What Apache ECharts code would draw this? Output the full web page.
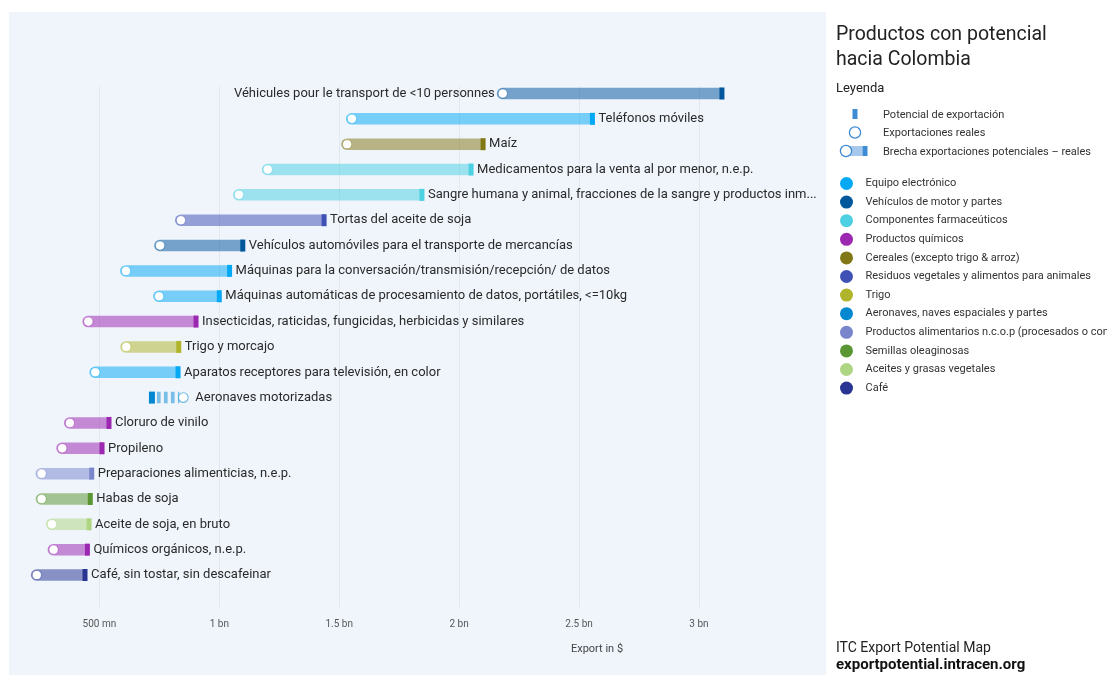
<!DOCTYPE html>
<html>
<head>
<meta charset="utf-8">
<script src="https://cdn.jsdelivr.net/npm/echarts@6/dist/echarts.min.js"></script>
<style>
html,body{margin:0;padding:0;background:#fff;}
#bg{position:absolute;left:9px;top:12px;width:817px;height:663px;background:#f0f5fc;}
#chart{position:absolute;left:0;top:0;width:1107px;height:675px;}
</style>
</head>
<body>
<div id="bg"></div>
<div id="chart"></div>
<script>
// ---- Data ----
const categories = ['Equipo electrónico','Vehículos de motor y partes','Componentes farmaceúticos','Productos químicos','Cereales (excepto trigo & arroz)','Residuos vegetales y alimentos para animales','Trigo','Aeronaves, naves espaciales y partes','Productos alimentarios n.c.o.p (procesados o congelados)','Semillas oleaginosas','Aceites y grasas vegetales','Café'];
const categoryColors = ['#03a9f4','#01579b','#4dd0e1','#9c27b0','#827717','#3f51b5','#afb42b','#0288d1','#7986cb','#5a9632','#aed581','#283593'];
const products = [
  'Véhicules pour le transport de <10 personnes',
  'Teléfonos móviles',
  'Maíz',
  'Medicamentos para la venta al por menor, n.e.p.',
  'Sangre humana y animal, fracciones de la sangre y productos inm...',
  'Tortas del aceite de soja',
  'Vehículos automóviles para el transporte de mercancías',
  'Máquinas para la conversación/transmisión/recepción/ de datos',
  'Máquinas automáticas de procesamiento de datos, portátiles, <=10kg',
  'Insecticidas, raticidas, fungicidas, herbicidas y similares',
  'Trigo y morcajo',
  'Aparatos receptores para televisión, en color',
  'Aeronaves motorizadas',
  'Cloruro de vinilo',
  'Propileno',
  'Preparaciones alimenticias, n.e.p.',
  'Habas de soja',
  'Aceite de soja, en bruto',
  'Químicos orgánicos, n.e.p.',
  'Café, sin tostar, sin descafeinar'
];
const productCategory = [1,0,4,2,2,5,1,0,0,3,6,0,7,3,3,8,9,10,3,11];
// values in million USD
const actualExports    = [2182,1553,1533,1202,1082,840,753,611,749,454,612,483,850,377,345,259,259,302,309,239];
const potentialExports = [3096,2556,2100,2050,1845,1437,1098,1043,1000,903,831,828,719,540,511,468,462,457,450,440];
const xTickValues = [500,1000,1500,2000,2500,3000];
const xTickLabels = ['500 mn','1 bn','1.5 bn','2 bn','2.5 bn','3 bn'];

// ---- Helpers ----
function rgba(hex, a){
  const n = parseInt(hex.slice(1),16);
  return 'rgba(' + ((n>>16)&255) + ',' + ((n>>8)&255) + ',' + (n&255) + ',' + a + ')';
}
const FONT = 'Roboto, "Noto Sans", sans-serif';
const measureCtx = document.createElement('canvas').getContext('2d');
function textWidth(t, font){ measureCtx.font = font; return measureCtx.measureText(t).width; }
const PLOT_RIGHT = 832;

const rowData = products.map((p,i) => [i, actualExports[i], potentialExports[i], productCategory[i]]);

function renderItem(params, api){
  const row = api.value(0);
  const a = api.value(1), pv = api.value(2);
  const color = categoryColors[api.value(3)];
  const name = products[row];
  const pa = api.coord([a,row]);
  const pp = api.coord([pv,row]);
  const y = pa[1], xa = pa[0], xp = pp[0];
  const h = 11.5;
  const labelFont = '13px ' + FONT;
  const children = [];
  let labelX, align;
  if (pv >= a) {
    children.push({type:'rect', shape:{x:xa-6, y:y-h/2, width:xp-xa+6, height:h, r:[6,0,0,6]},
      style:{fill:color, opacity:0.52}});
    children.push({type:'rect', shape:{x:xp-2.5, y:y-6, width:5, height:12}, style:{fill:color}});
    children.push({type:'circle', shape:{cx:xa, cy:y, r:4.6}, style:{fill:'#fff', stroke:rgba(color,0.4), lineWidth:1.1}});
    const w = textWidth(name, labelFont);
    if (xp + 6 + w > PLOT_RIGHT) { labelX = xa - 8; align = 'right'; }
    else { labelX = xp + 6; align = 'left'; }
  } else {
    children.push({type:'rect', shape:{x:xp-3, y:y-6, width:6, height:12}, style:{fill:color}});
    children.push({type:'line', shape:{x1:xp+5, y1:y, x2:xa-4, y2:y},
      style:{stroke:color, opacity:0.5, lineWidth:h, lineDash:[3.7,3.3]}});
    children.push({type:'circle', shape:{cx:xa, cy:y, r:4.8}, style:{fill:'#fff', stroke:rgba(color,0.55), lineWidth:1.1}});
    labelX = xa + 12; align = 'left';
  }
  children.push({type:'text', style:{x:labelX, y:y, text:name, fill:'#2a2a2a', font:labelFont, align:align, verticalAlign:'middle'}});
  return {type:'group', children:children};
}

const legendSeries = categories.map((c,i) => ({
  type:'custom', name:c, data:[], itemStyle:{color:categoryColors[i]},
  renderItem: () => null
}));

const KEY = '#3d8bd4';
const option = {
  backgroundColor:'transparent',
  animation:false,
  textStyle:{fontFamily:FONT},
  grid:{left:0, top:86, width:722.9, height:521, containLabel:false},
  xAxis:{
    type:'value', min:85.5, max:3100, splitNumber:5,
    axisLine:{show:false}, axisTick:{show:false},
    splitLine:{show:true, showMinLine:false, showMaxLine:false, lineStyle:{color:'#e3e8ee', width:1}},
    axisLabel:{showMinLabel:false, showMaxLabel:false, margin:12, fontSize:10, color:'#555', fontFamily:FONT,
      formatter:v => { const k = xTickValues.indexOf(Math.round(v)); return k >= 0 ? xTickLabels[k] : ''; }}
  },
  yAxis:{type:'value', inverse:true, min:-0.296, max:20.263, show:false, splitLine:{show:false}},
  legend:{
    orient:'vertical', left:835, top:172, itemWidth:28, itemHeight:13, itemGap:5.6,
    icon:'circle', selectedMode:false,
    textStyle:{fontSize:11, color:'#333', fontFamily:FONT},
    data:categories
  },
  graphic:[
    {type:'text', left:836, top:23, style:{text:'Productos con potencial\nhacia Colombia', font:'19.5px '+FONT, fill:'#222', lineHeight:25}},
    {type:'text', left:836, top:82, style:{text:'Leyenda', font:'13px '+FONT, fill:'#222'}},
    {type:'rect', shape:{x:852.5, y:109, width:5, height:10}, style:{fill:KEY}},
    {type:'text', left:883, top:110, style:{text:'Potencial de exportación', font:'11px '+FONT, fill:'#333'}},
    {type:'circle', shape:{cx:855, cy:132.5, r:5.6}, style:{fill:'#fff', stroke:KEY, lineWidth:1.3}},
    {type:'text', left:883, top:128, style:{text:'Exportaciones reales', font:'11px '+FONT, fill:'#333'}},
    {type:'rect', shape:{x:846, y:146, width:16.5, height:10}, style:{fill:'#a6c8ec'}},
    {type:'rect', shape:{x:862.5, y:146, width:5, height:10}, style:{fill:KEY}},
    {type:'circle', shape:{cx:846, cy:151, r:5.6}, style:{fill:'#fff', stroke:KEY, lineWidth:1.3}},
    {type:'text', left:883, top:147, style:{text:'Brecha exportaciones potenciales – reales', font:'11px '+FONT, fill:'#333'}},
    {type:'text', left:836, top:641, style:{text:'ITC Export Potential Map', font:'14px '+FONT, fill:'#222'}},
    {type:'text', left:836, top:658, style:{text:'exportpotential.intracen.org', font:'bold 15px '+FONT, fill:'#111'}},
    {type:'text', x:597, y:649, style:{text:'Export in $', font:'11px '+FONT, fill:'#444', align:'center', verticalAlign:'middle'}}
  ],
  series:[
    {type:'custom', name:'gap', renderItem:renderItem, data:rowData, encode:{x:[1,2], y:0}, clip:false, z:5}
  ].concat(legendSeries)
};

const chart = echarts.init(document.getElementById('chart'), null, {renderer:'canvas'});
chart.setOption(option);
</script>
</body>
</html>
